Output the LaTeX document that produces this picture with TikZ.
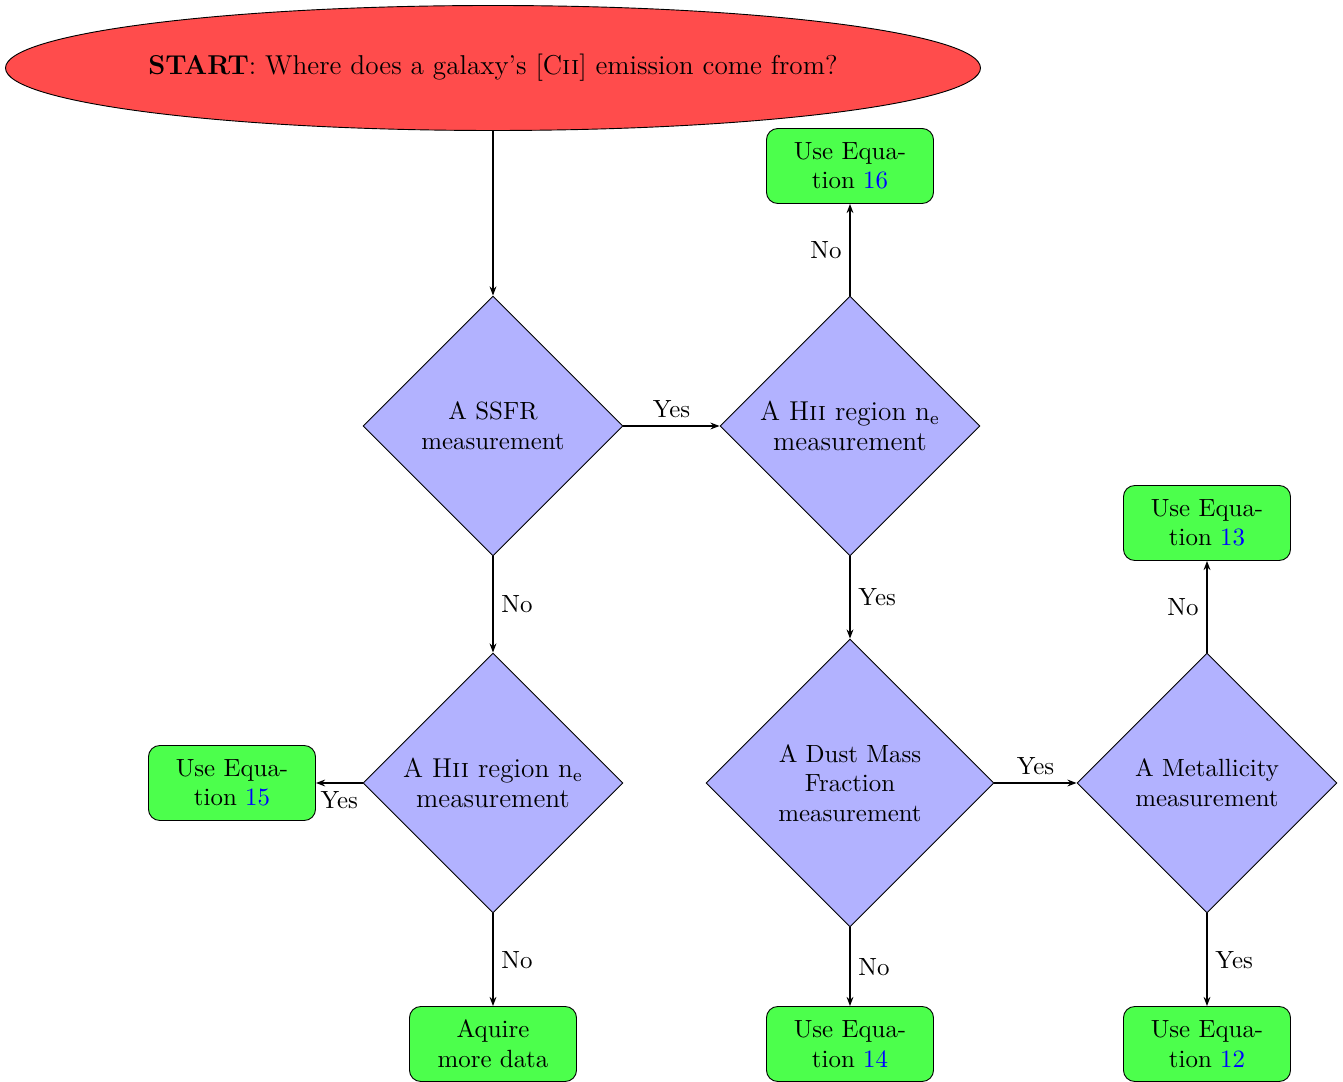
\documentclass[tikz,border=0pt]{standalone}
\usetikzlibrary{shapes.geometric,arrows.meta}
\newcommand{\twelve}{\fontsize{12}{13}\selectfont}
\newcommand{\smallish}{\fontsize{10.95}{13}\selectfont}
\begin{document}
\begin{tikzpicture}[x=0.44pt,y=-0.44pt,font=\twelve,
  startnode/.style={ellipse,draw,fill=red!70,minimum width=427pt,minimum height=55pt,inner sep=0pt},
  decision/.style={diamond,draw,fill=blue!30,minimum width=114.4pt,minimum height=114.4pt,inner sep=0pt,align=center},
  bigdecision/.style={decision,minimum width=126.7pt,minimum height=126.7pt},
  result/.style={rectangle,rounded corners=5pt,draw,fill=green!70,minimum width=73.5pt,minimum height=33pt,inner sep=2pt,align=center,font=\smallish},
  flow/.style={draw,thick,-{Stealth[length=4pt,width=3pt]}},
  lbl/.style={font=\smallish}]
\useasboundingbox (0,0) rectangle (1343,1082);
\node[startnode] (start) at (493,68) {\textbf{START}: Where does a galaxy's [C\textsc{ii}] emission come from?};
\node[decision,font=\smallish] (ssfr) at (493,426) {A SSFR\\measurement};
\node[decision] (hiia) at (850,426) {A H\textsc{ii} region n$_{\rm e}$\\measurement};
\node[decision] (hiib) at (493,783) {A H\textsc{ii} region n$_{\rm e}$\\measurement};
\node[bigdecision,font=\smallish] (dust) at (850,783) {A Dust Mass\\Fraction\\measurement};
\node[decision,font=\smallish] (metal) at (1207,783) {A Metallicity\\measurement};
\node[result] (eq16) at (850,166) {Use Equa-\\tion \textcolor{blue}{16}};
\node[result] (eq15) at (232,783) {Use Equa-\\tion \textcolor{blue}{15}};
\node[result] (more) at (493,1044) {Aquire\\more data};
\node[result] (eq13) at (1207,523) {Use Equa-\\tion \textcolor{blue}{13}};
\node[result] (eq14) at (850,1044) {Use Equa-\\tion \textcolor{blue}{14}};
\node[result] (eq12) at (1207,1044) {Use Equa-\\tion \textcolor{blue}{12}};
\draw[flow] (start) -- (ssfr);
\draw[flow] (ssfr) -- node[lbl,above] {Yes} (hiia);
\draw[flow] (ssfr) -- node[lbl,right] {No} (hiib);
\draw[flow] (hiia) -- node[lbl,left] {No} (eq16);
\draw[flow] (hiia) -- node[lbl,right] {Yes} (dust);
\draw[flow] (hiib) -- node[lbl,below] {Yes} (eq15);
\draw[flow] (hiib) -- node[lbl,right] {No} (more);
\draw[flow] (dust) -- node[lbl,above] {Yes} (metal);
\draw[flow] (dust) -- node[lbl,right] {No} (eq14);
\draw[flow] (metal) -- node[lbl,left] {No} (eq13);
\draw[flow] (metal) -- node[lbl,right] {Yes} (eq12);
\end{tikzpicture}
\end{document}
